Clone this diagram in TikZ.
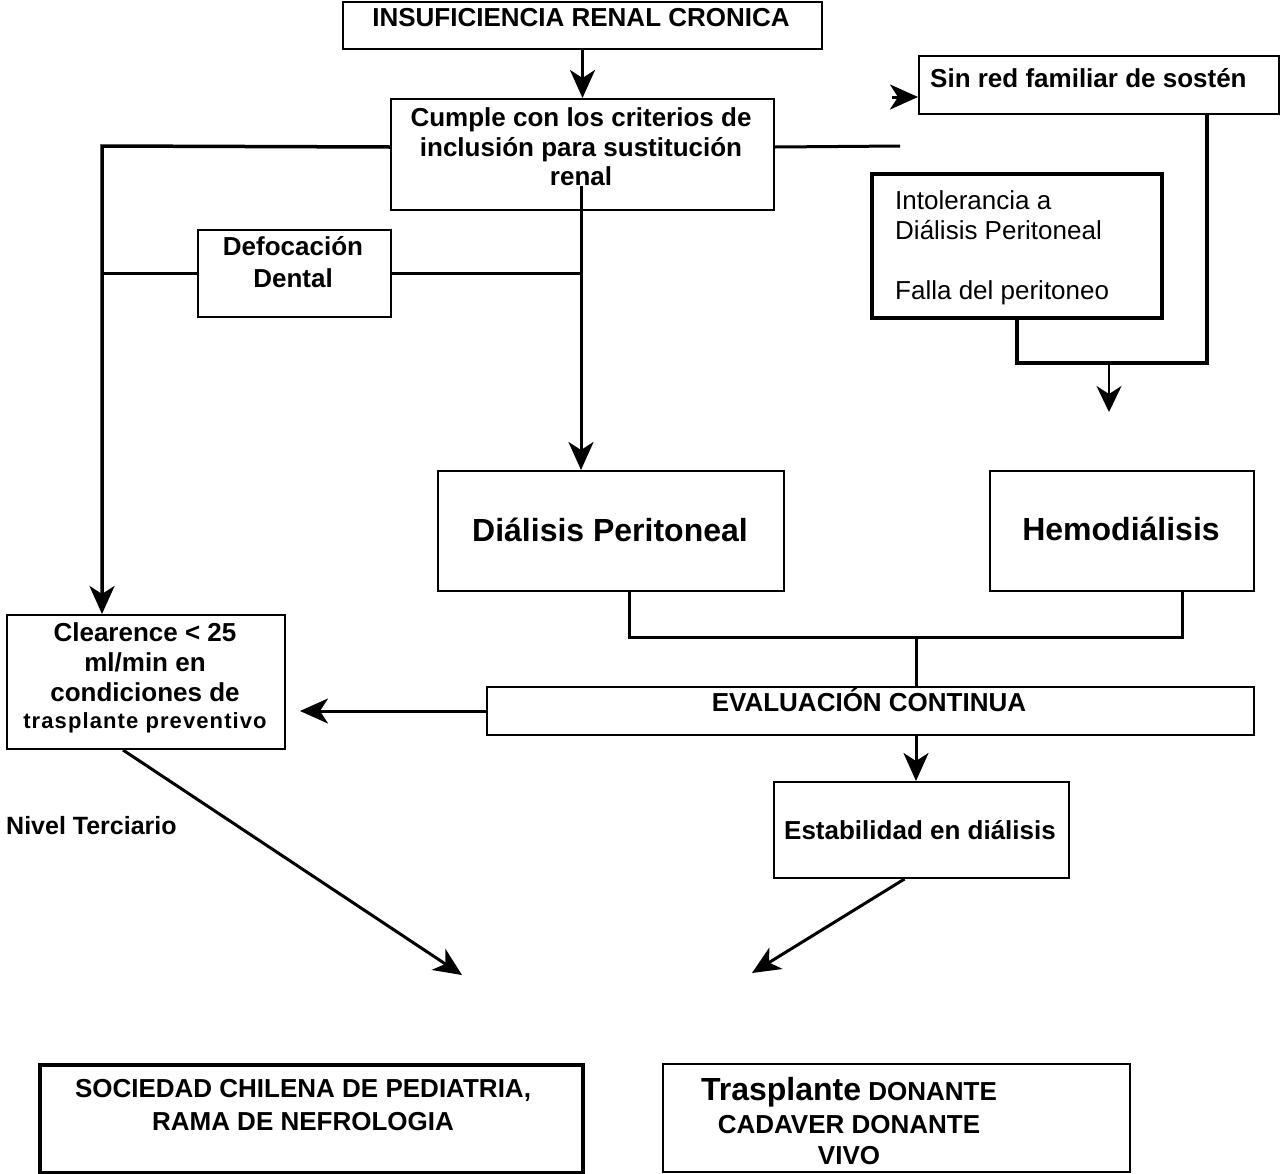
\documentclass[tikz,border=0pt]{standalone}
\usepackage{fontspec}
\setmainfont{Liberation Sans}
\usetikzlibrary{arrows.meta}

\begin{document}
\begin{tikzpicture}[x=1pt,y=-1pt,
  box/.style={draw, line width=2pt, rectangle, inner sep=0pt, anchor=north west},
  heavybox/.style={box, line width=3.5pt},
  txt/.style={inner sep=0pt, anchor=base, font=\fontsize{26}{30}\selectfont\bfseries},
  txtl/.style={txt, anchor=base west},
  plain/.style={inner sep=0pt, anchor=base west, font=\fontsize{26}{30}\selectfont},
  big/.style={txt, font=\fontsize{32}{36}\selectfont\bfseries},
  link/.style={line width=3pt},
  arr/.style={link, -{Stealth[length=28pt, width=25pt, inset=8pt]}},
  thinarr/.style={line width=2pt, -{Stealth[length=26pt, width=25pt, inset=8pt]}}
]
\useasboundingbox (0,0) rectangle (1280,1173);
\fill[white] (0,0) rectangle (1280,1173);

% ---- boxes ----
\node[box, minimum width=479pt, minimum height=47pt] (ins) at (342,1) {};
\node[box, minimum width=383pt, minimum height=111pt] (cum) at (390,98) {};
\node[box, minimum width=360pt, minimum height=58pt] (sin) at (918,55) {};
\node[heavybox, minimum width=290pt, minimum height=144pt] (int) at (870,172) {};
\node[box, minimum width=193pt, minimum height=87pt] (def) at (197,229) {};
\node[box, minimum width=346pt, minimum height=120pt] (dp) at (437,470) {};
\node[box, minimum width=264pt, minimum height=120pt] (hd) at (989,470) {};
\node[box, minimum width=278pt, minimum height=134pt] (cle) at (6,614) {};
\node[box, minimum width=767pt, minimum height=48pt] (eva) at (486,686) {};
\node[box, minimum width=295pt, minimum height=96pt] (est) at (773,781) {};
\node[heavybox, minimum width=543pt, minimum height=108pt] (soc) at (38,1063) {};
\node[box, minimum width=467pt, minimum height=108pt] (tra) at (662,1063) {};

% ---- texts ----
\node[txt] (insT) at (581,26) {INSUFICIENCIA RENAL CRONICA};
\node[txt] (cumT1) at (581,126) {Cumple con los criterios de};
\node[txt] (cumT2) at (581,156) {inclusión para sustitución};
\node[txt] (cumT3) at (581,185) {renal};
\node[txtl] (sinT) at (930,87) {Sin red familiar de sostén};
\node[plain] (intT1) at (895,209) {Intolerancia a};
\node[plain] (intT2) at (895,239) {Diálisis Peritoneal};
\node[plain] (intT3) at (895,299) {Falla del peritoneo};
\node[txt] (defT1) at (293,255) {Defocación};
\node[txt] (defT2) at (293,287) {Dental};
\node[big] (dpT) at (610,541) {Diálisis Peritoneal};
\node[big] (hdT) at (1121,540) {Hemodiálisis};
\node[txt] (cleT1) at (145,641) {Clearence < 25};
\node[txt] (cleT2) at (145,671) {ml/min en};
\node[txt] (cleT3) at (145,701) {condiciones de};
\node[txt, font=\fontsize{22}{24}\selectfont\bfseries\addfontfeature{LetterSpace=5}] (cleT4) at (145,728) {trasplante preventivo};
\node[txt] (evaT) at (869,711) {EVALUACIÓN CONTINUA};
\node[txt] (estT) at (920,839) {Estabilidad en diálisis};
\node[txtl, font=\fontsize{25}{30}\selectfont\bfseries] (nivT) at (6,834) {Nivel Terciario};
\node[txt] (socT1) at (303,1097) {SOCIEDAD CHILENA DE PEDIATRIA,};
\node[txt] (socT2) at (303,1130) {RAMA DE NEFROLOGIA};
\node[txt] (traT1) at (849,1100) {{\fontsize{32}{36}\selectfont Trasplante} DONANTE};
\node[txt] (traT2) at (849,1133) {CADAVER DONANTE};
\node[txt] (traT3) at (849,1164) {VIVO};

% ---- junction points ----
\coordinate (lv) at (102,146);
\coordinate (cv) at (581,186);
\coordinate (rend) at (900,146);
\coordinate (sinin) at (918,97);
\coordinate (rv) at (1207,363);
\coordinate (dn) at (1109,363);
\coordinate (dnend) at (1109,412);
\coordinate (jl) at (629,637);
\coordinate (jr) at (1182,637);
\coordinate (jn) at (916,637);
\coordinate (tipL) at (462,975);
\coordinate (tipR) at (752,973);

% ---- connectors ----
\draw[arr] (ins.south) -- (cum.north);
\draw[arr, line width=3.5pt] ([yshift=7.5pt]cum.west) -- (lv) -- (lv |- cle.north);
\draw[link] (def.west) -- (def.west -| lv);
\draw[link] (def.east) -- (def.east -| cv);
\draw[arr] (cv) -- (cv |- dp.north);
\draw[link] ([yshift=7.5pt]cum.east) -- (rend);
\draw[arr] ([xshift=-26pt]sinin) -- (sinin);
\draw[link, line width=4pt] (rv |- sin.south) -- (rv) -- (rv -| int.south) -- (int.south);
\draw[thinarr] (dn) -- (dnend);
\draw[link] (jl |- dp.south) -- (jl) -- (jr) -- (jr |- hd.south);
\draw[link] (jn) -- (jn |- eva.north);
\draw[arr] (eva.west) -- ([xshift=14pt]cle.east |- eva.west);
\draw[arr] (jn |- eva.south) -- (jn |- est.north);
\draw[arr] ([xshift=-17pt]est.south) -- (tipR);
\draw[arr] ([xshift=-23pt]cle.south) -- (tipL);
\end{tikzpicture}
\end{document}
